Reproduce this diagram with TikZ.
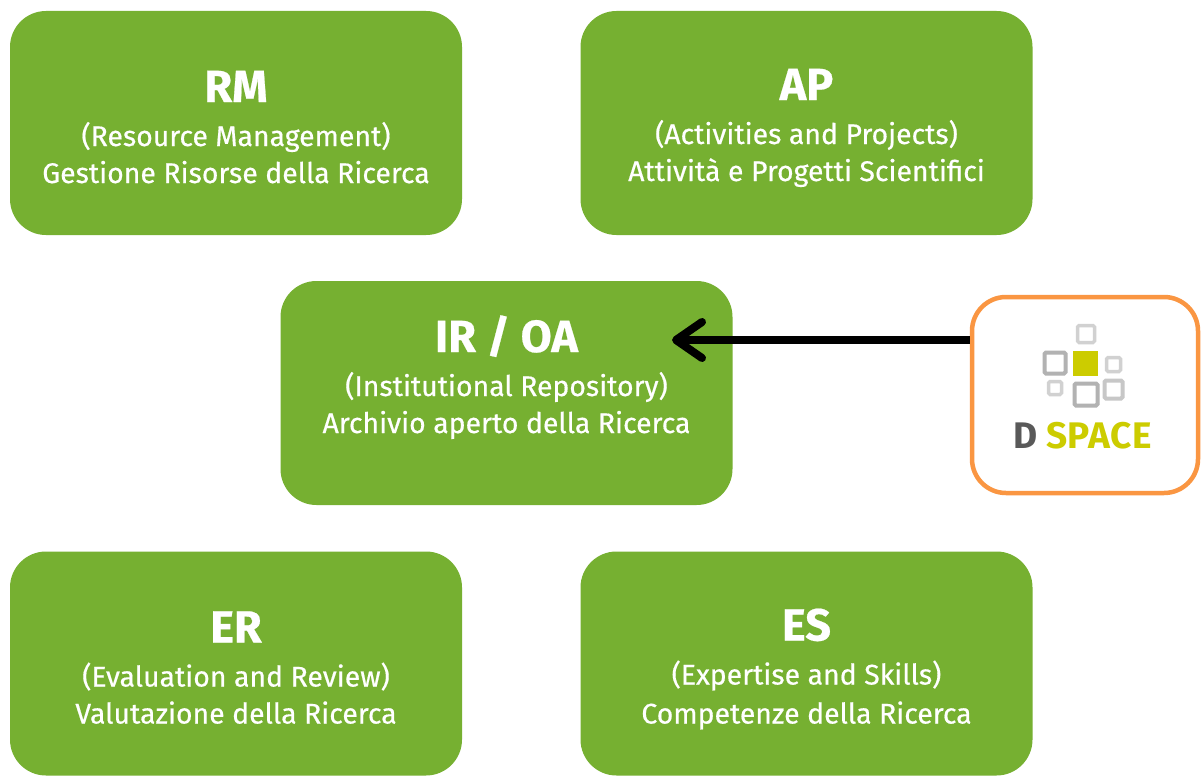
\documentclass[tikz,border=0pt]{standalone}
\usepackage{fontspec}
\setmainfont[FakeBold=0.35]{Fira Sans}
\newfontfamily\boxbody[FakeBold=0.5]{Fira Sans}
\newfontfamily\logofont[LetterSpace=1.5]{Fira Sans}
\usetikzlibrary{arrows.meta}
\definecolor{boxgreen}{HTML}{76B031}
\definecolor{dsorange}{HTML}{FA9642}
\definecolor{dsyellow}{HTML}{CCCC00}
% #1 bottom strut depth (sets the vertical position of the three lines)
\newcommand\boxlines[4]{\rule{0pt}{50pt}{\fontsize{45}{45}\selectfont\bfseries #2}\\[7pt]#3\\#4\rule[-#1pt]{0pt}{#1pt}}
\tikzset{
  x=1pt,y=-1pt,
  greenbox/.style={draw=none,fill=boxgreen,rounded corners=36pt,minimum width=452pt,minimum height=224pt,inner sep=0pt,
    text=white,align=center,font=\boxbody\fontsize{28.4}{37}\selectfont},
  dsbox/.style={draw=dsorange,line width=4.5pt,fill=white,rounded corners=34pt,minimum width=226pt,minimum height=196pt,inner sep=0pt},
  lightsq/.style={draw=black!18,line width=3.5pt,fill=white,rounded corners=1.5pt},
  midsq/.style={draw=black!30,line width=4pt,fill=white,rounded corners=1.5pt},
  dsletter/.style={inner sep=0pt,anchor=base,font=\logofont\fontsize{37}{37}\selectfont\bfseries},
  conn/.style={line width=8pt,-{Straight Barb[length=26pt,width=36pt,round]}},
}
\begin{document}
\begin{tikzpicture}
\useasboundingbox (0,0) rectangle (1201,776);
\fill[white] (0,0) rectangle (1201,776);
\node[greenbox] (rm) at (236,123) {\boxlines{11}{RM}{(Resource Management)}{Gestione Risorse della Ricerca}};
\node[greenbox] (ap) at (806.5,123) {\boxlines{15}{AP}{(Activities and Projects)}{Attività e Progetti Scientifici}};
\node[greenbox] (ir) at (506.5,393) {\boxlines{51}{IR / OA}{(Institutional Repository)}{Archivio aperto della Ricerca}};
\node[greenbox] (er) at (236,663.5) {\boxlines{11}{ER}{(Evaluation and Review)}{Valutazione della Ricerca}};
\node[greenbox] (es) at (806.5,663.5) {\boxlines{15}{ES}{(Expertise and Skills)}{\raisebox{-2pt}{Competenze della Ricerca}}};
\node[dsbox] (ds) at (1085,395) {};
\coordinate (tip) at (672,340);
\draw[conn] (ds.west |- tip) -- (tip);
% D-Space logo
\draw[lightsq] (1077.5,325.5) rectangle (1094.5,342.5);
\draw[midsq] (1044.5,352.5) rectangle (1065.5,373.5);
\fill[dsyellow] (1073,351) rectangle (1098,376);
\draw[lightsq] (1106.5,357.5) rectangle (1120.5,371.5);
\draw[lightsq] (1048.5,381.5) rectangle (1061.5,394.5);
\draw[midsq] (1074.5,383.5) rectangle (1097.5,405.5);
\draw[midsq,draw=black!22] (1104.5,380.5) rectangle (1122.5,398.5);
\node[dsletter,text=black!65] (dsd) at (1026,448) {D};
\node[dsletter,text=dsyellow] (dss) at (1099,448) {SPACE};
\end{tikzpicture}
\end{document}
